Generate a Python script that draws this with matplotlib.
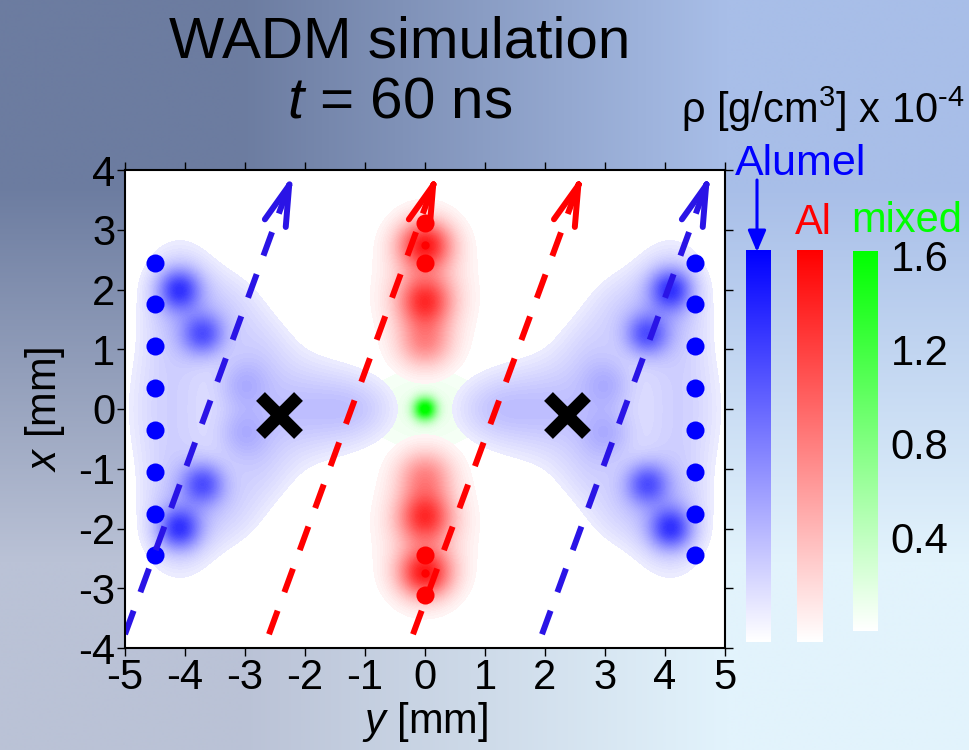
import numpy as np
import matplotlib.pyplot as plt
from matplotlib import cm
from matplotlib.colors import LinearSegmentedColormap, Normalize
from matplotlib.patches import FancyArrowPatch

plt.rcParams['font.family'] = ['Liberation Sans', 'DejaVu Sans']
plt.rcParams['mathtext.fontset'] = 'custom'
plt.rcParams['mathtext.rm'] = 'Liberation Sans'
plt.rcParams['mathtext.it'] = 'Liberation Sans:italic'
plt.rcParams['axes.unicode_minus'] = False

W, H = 970, 750
rho_max = 1.62  # colour scale top, 1e-4 g/cm3

# Alumel wires (y, x in mm)
wire_y = [-4.5, 4.5]
wire_x = [-2.45, -1.75, -1.05, -0.35, 0.35, 1.05, 1.75, 2.45]

# Al wire cores on the axis
al_x = [3.12, 2.75, 2.45, -2.45, -2.75, -3.12]
al_ms = [13, 6, 13, 13, 6, 13]

# Alumel plume, one quadrant (y<0, x>0), mirrored into the other three
blue_y = [-4.1, -3.7, -3.05, -4.1, -3.3, -2.8, -2.1, -1.1, -4.3]
blue_x = [2.0, 1.25, 0.4, 1.7, 1.7, 1.0, 0.15, 0.1, 0.4]
blue_rho = [0.95, 0.8, 0.28, 0.35, 0.2, 0.2, 0.2, 0.1, 0.15]
blue_sy = [0.24, 0.24, 0.3, 0.45, 0.45, 0.45, 0.8, 0.45, 0.5]
blue_sx = [0.24, 0.24, 0.3, 0.75, 0.45, 0.45, 0.55, 0.35, 0.6]

# Al column, upper half, mirrored to x<0
red_y = [0.0, 0.0, 0.0, 0.0]
red_x = [2.75, 1.8, 1.1, 2.0]
red_rho = [1.3, 1.05, 0.6, 0.3]
red_sy = [0.3, 0.3, 0.3, 0.48]
red_sx = [0.28, 0.3, 0.28, 0.7]

# mixed material at the centre
green_y = [0.0, 0.0]
green_x = [0.0, 0.0]
green_rho = [1.62, 0.12]
green_sy = [0.13, 0.75]
green_sx = [0.13, 0.5]

# lines of sight (y at bottom / top, x at bottom / top)
los_y0 = [-5.0, -2.6, -0.2, 1.95]
los_y1 = [-2.2, 0.2, 2.62, 4.75]
los_x0 = -3.77
los_x1 = 3.92
los_col = ['#2a14e6', '#ff0000', '#ff0000', '#2a14e6']

# shock collision points
cross_y = [-2.43, 2.37]
cross_x = [-0.1, -0.1]

cbar_ticks = [0.4, 0.8, 1.2, 1.6]

yy = np.linspace(-5, 5, 501)
xx = np.linspace(-4, 4, 401)
Y, X = np.meshgrid(yy, xx)


def density(cy, cx, amp, sy, sx, signs_y, signs_x):
    rho = np.zeros_like(Y)
    for my in signs_y:
        for mx in signs_x:
            for a, b, c, d, e in zip(cy, cx, amp, sy, sx):
                rho += c * np.exp(-0.5 * (((Y - my * a) / d) ** 2 + ((X - mx * b) / e) ** 2))
    return rho


rho_blue = density(blue_y, blue_x, blue_rho, blue_sy, blue_sx, [1, -1], [1, -1])
rho_red = density(red_y, red_x, red_rho, red_sy, red_sx, [1], [1, -1])
rho_green = density(green_y, green_x, green_rho, green_sy, green_sx, [1], [1])

cmap_blue = LinearSegmentedColormap.from_list('alumel', ['white', (0, 0, 1)])
cmap_red = LinearSegmentedColormap.from_list('al', ['white', (1, 0, 0)])
cmap_green = LinearSegmentedColormap.from_list('mixed', ['white', (0, 1, 0)])
norm = Normalize(0, rho_max)

fig = plt.figure(figsize=(W / 100, H / 100), dpi=100)

# slide background
bg = fig.add_axes([0, 0, 1, 1], zorder=-10)
corners = np.array([[[108, 124, 160], [168, 190, 232]],
                    [[186, 194, 214], [226, 243, 252]]]) / 255.0
bg.imshow(corners, extent=[0, 1, 0, 1], interpolation='bilinear', aspect='auto')
bg.set_axis_off()


def px(x0, y0, x1, y1):
    return [x0 / W, 1 - y1 / H, (x1 - x0) / W, (y1 - y0) / H]


ax = fig.add_axes(px(125, 170, 725, 648))
ax.set_facecolor('white')

ax.contourf(Y, X, rho_green, levels=np.linspace(0.05, rho_max, 60), cmap=cmap_green, norm=norm, extend='max')
ax.contourf(Y, X, rho_red, levels=np.linspace(0.06, rho_max, 60), cmap=cmap_red, norm=norm, extend='max')
ax.contourf(Y, X, rho_blue, levels=np.linspace(0.12, rho_max, 60), cmap=cmap_blue, norm=norm, extend='max')

for wy in wire_y:
    ax.plot([wy] * len(wire_x), wire_x, 'o', color='blue', ms=13, mec='none')
for x, s in zip(al_x, al_ms):
    ax.plot(0, x, 'o', color='red', ms=s, mec='none')

for y0, y1, c in zip(los_y0, los_y1, los_col):
    ax.plot([y0, y1], [los_x0, los_x1], color=c, lw=4.3, dashes=(4.2, 3.3), dash_capstyle='butt')
    ax.annotate('', xy=(y1, los_x1),
                xytext=(y1 - 0.03 * (y1 - y0), los_x1 - 0.03 * (los_x1 - los_x0)),
                arrowprops=dict(arrowstyle='->,head_length=1.45,head_width=0.4', lw=4.3,
                                color=c, mutation_scale=20, shrinkA=0, shrinkB=0,
                                capstyle='round'))

ax.plot(cross_y, cross_x, 'x', color='black', ms=27, mew=9, ls='')

ax.set_xlim(-5, 5)
ax.set_ylim(-4, 4)
ax.set_xticks(np.arange(-5, 6))
ax.set_yticks(np.arange(-4, 5))
ax.tick_params(direction='out', length=6, width=1, top=True, right=True, labelsize=30, pad=1)
for s in ax.spines.values():
    s.set_linewidth(1.5)
ax.set_xlabel(r'$y$ [mm]', fontsize=30, labelpad=2)
ax.set_ylabel(r'$x$ [mm]', fontsize=30, labelpad=8)

fig.text(400 / W, 1 - 57 / H, 'WADM simulation', ha='center', va='baseline', fontsize=42)
fig.text(400 / W, 1 - 117 / H, r'$t$ = 60 ns', ha='center', va='baseline', fontsize=42)

# colour bars
for rect, cmap in [(px(746, 250, 771, 642), cmap_blue),
                   (px(797, 250, 823, 642), cmap_red),
                   (px(853, 251, 878, 631), cmap_green)]:
    cax = fig.add_axes(rect)
    cb = fig.colorbar(cm.ScalarMappable(norm=norm, cmap=cmap), cax=cax)
    cb.outline.set_visible(False)
    cax.set_yticks([])
cb.set_ticks(cbar_ticks)
cax.tick_params(length=0, pad=9, labelsize=30)

fig.text(965 / W, 1 - 123 / H, 'ρ [g/cm$^{3}$] x 10$^{\u2010 4}$', ha='right', va='baseline', fontsize=30)
fig.text(801 / W, 1 - 175 / H, 'Alumel', color='blue', ha='center', va='baseline', fontsize=31)
fig.text(813 / W, 1 - 234 / H, 'Al', color='red', ha='center', va='baseline', fontsize=30)
fig.text(907 / W, 1 - 232 / H, 'mixed', color='#00ff00', ha='center', va='baseline', fontsize=30)
fig.add_artist(FancyArrowPatch((757 / W, 1 - 180 / H), (757 / W, 1 - 252 / H),
                               transform=fig.transFigure, color='blue', lw=2.2,
                               arrowstyle='-|>,head_length=1.3,head_width=0.55',
                               mutation_scale=10, shrinkA=0, shrinkB=0))

fig.savefig('out.png', dpi=100)
